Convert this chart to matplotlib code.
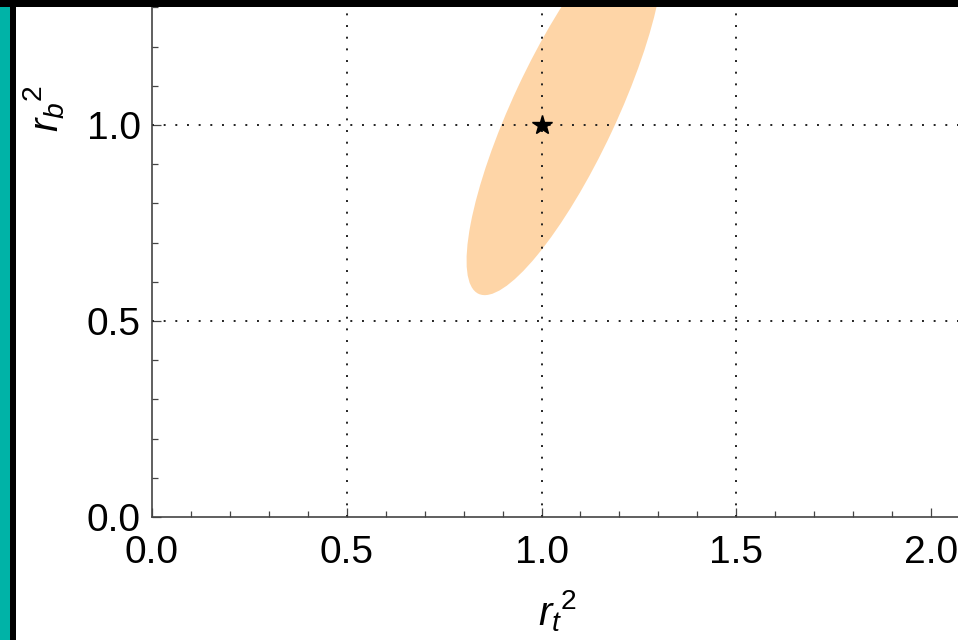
import numpy as np
import matplotlib
matplotlib.use("Agg")
import matplotlib.pyplot as plt
from matplotlib.patches import Ellipse, Rectangle
from matplotlib.ticker import MultipleLocator

plt.rcParams['font.family'] = ['Liberation Sans', 'DejaVu Sans']
plt.rcParams['mathtext.fontset'] = 'custom'
plt.rcParams['mathtext.rm'] = 'Liberation Sans'
plt.rcParams['mathtext.it'] = 'Liberation Sans:italic'

# confidence region (centre and covariance-like shape matrix)
ellipse_center = [1.06, 1.04]
ellipse_cov = [[0.0637, 0.0975],
               [0.0975, 0.2247]]

# best-fit point
star_x = [1.0]
star_y = [1.0]

grid_x = [0.5, 1.0, 1.5]
grid_y = [0.5, 1.0]

x_ticks = [0.0, 0.5, 1.0, 1.5, 2.0]
y_ticks = [0.0, 0.5, 1.0]

fig = plt.figure(figsize=(9.58, 6.4), dpi=100)
ax = fig.add_axes([152 / 958, 123 / 640, 806 / 958, 517 / 640])

ax.set_xlim(0, 806 / 389.5)
ax.set_ylim(0, 517 / 392)

# ellipse from eigen decomposition of the shape matrix
vals, vecs = np.linalg.eigh(np.array(ellipse_cov))
order = np.argsort(vals)[::-1]
vals, vecs = vals[order], vecs[:, order]
angle = np.degrees(np.arctan2(vecs[1, 0], vecs[0, 0]))
ell = Ellipse(ellipse_center, 2 * np.sqrt(vals[0]), 2 * np.sqrt(vals[1]),
              angle=angle, facecolor='#fed5a7', edgecolor='none', zorder=1)
ax.add_patch(ell)

for gx in grid_x:
    ax.axvline(gx, color='#222222', lw=1.4, ls=(0, (1, 5)), zorder=2)
for gy in grid_y:
    ax.axhline(gy, color='#222222', lw=1.4, ls=(0, (1, 5)), zorder=2)

ax.plot(star_x, star_y, marker='*', color='black', ms=15, ls='none', zorder=3)

ax.set_xticks(x_ticks)
ax.set_yticks(y_ticks)
ax.set_xticklabels(['%.1f' % v for v in x_ticks])
ax.set_yticklabels(['%.1f' % v for v in y_ticks])
ax.xaxis.set_minor_locator(MultipleLocator(0.1))
ax.yaxis.set_minor_locator(MultipleLocator(0.1))
ax.tick_params(which='both', direction='in', color='#444444', width=0.9,
               top=False, right=False)
ax.tick_params(which='major', length=6.5, labelsize=28)
ax.tick_params(which='minor', length=4.3)
ax.tick_params(axis='x', which='major', pad=13)
ax.tick_params(axis='y', which='major', pad=8)

for side in ['top', 'right']:
    ax.spines[side].set_visible(False)
for side in ['left', 'bottom']:
    ax.spines[side].set_color('#444444')
    ax.spines[side].set_linewidth(1.2)

ax.set_xlabel(r'${r_t}^{2}$', fontsize=29, va='top')
ax.xaxis.set_label_coords(0.5025, -0.138)
ax.set_ylabel(r'${r_b}^{2}$', fontsize=29)
ax.yaxis.set_label_coords(-0.106, 0.79)

# border pieces of the original screenshot
fig.patches.append(Rectangle((0, 0), 10 / 958, 1, transform=fig.transFigure,
                             facecolor='#00b3a7', edgecolor='none', zorder=10))
fig.patches.append(Rectangle((10 / 958, 0), 6 / 958, 1, transform=fig.transFigure,
                             facecolor='black', edgecolor='none', zorder=10))
fig.patches.append(Rectangle((0, 1 - 7 / 640), 1, 7 / 640, transform=fig.transFigure,
                             facecolor='black', edgecolor='none', zorder=11))

fig.savefig('out.png', dpi=100)
